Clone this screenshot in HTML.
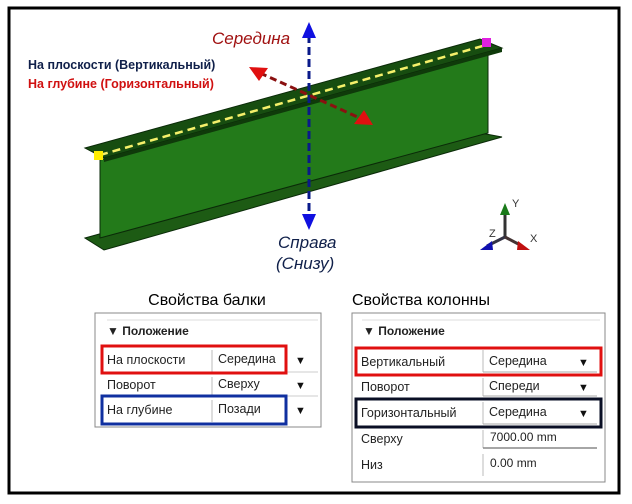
<!DOCTYPE html>
<html><head><meta charset="utf-8"><style>
html,body{margin:0;padding:0;background:#fff;}
body{width:632px;height:504px;overflow:hidden;position:relative;font-family:"Liberation Sans","DejaVu Sans",sans-serif;}
svg{position:absolute;left:0;top:0;}
</style></head><body>
<svg width="632" height="504" viewBox="0 0 632 504" xmlns="http://www.w3.org/2000/svg" font-family="Liberation Sans, DejaVu Sans, sans-serif">
<rect x="9" y="8" width="610" height="485" fill="none" stroke="#000" stroke-width="3"/>
<!-- beam -->
<polygon points="85,238 470,131 502,137 104,250" fill="#1d5b14" stroke="#0a2a08" stroke-width="1"/>
<polygon points="100,160 488,54 488,133 100,238" fill="#237a1a" stroke="#0a2a08" stroke-width="1"/>
<polygon points="85,148 480,39 502,48 104,158" fill="#174d10" stroke="#0a2a08" stroke-width="1"/>
<polygon points="104,158 502,48 502,52 104,162" fill="#0f3a0a"/>
<line x1="100" y1="155" x2="486" y2="45" stroke="#f5f06a" stroke-width="2.5" stroke-dasharray="8,5"/>
<rect x="94" y="151" width="9" height="9" fill="#ffee00"/>
<rect x="482" y="38" width="9" height="9" fill="#e020e0"/>
<!-- blue arrow -->
<line x1="309" y1="35" x2="309" y2="218" stroke="#0a1a8a" stroke-width="3" stroke-dasharray="8,4"/>
<polygon points="309,22 302,38 316,38" fill="#1010e0"/>
<polygon points="309,230 302,214 316,214" fill="#1010e0"/>
<!-- red arrow -->
<line x1="260" y1="73" x2="362" y2="119" stroke="#8a1010" stroke-width="3" stroke-dasharray="7,4"/>
<polygon points="249,67 268,68 259,81" fill="#e01010"/>
<polygon points="373,125 354,124 364,110" fill="#e01010"/>
<!-- labels -->
<text x="212" y="44" font-size="17" font-style="italic" fill="#a01010">Середина</text>
<text x="28" y="69" font-size="12.5" font-weight="bold" fill="#10204a">На плоскости (Вертикальный)</text>
<text x="28" y="88" font-size="12.5" font-weight="bold" fill="#d01010">На глубине (Горизонтальный)</text>
<text x="278" y="248" font-size="17" font-style="italic" fill="#10204a">Справа</text>
<text x="276" y="269" font-size="17" font-style="italic" fill="#10204a">(Снизу)</text>
<!-- triad -->
<line x1="505" y1="237" x2="505" y2="212" stroke="#333" stroke-width="3"/>
<polygon points="505,203 500,215 510,215" fill="#1a7a1a"/>
<line x1="505" y1="237" x2="487" y2="246" stroke="#334" stroke-width="3"/>
<polygon points="480,250 492,241 493,250" fill="#1010b0"/>
<line x1="505" y1="237" x2="522" y2="246" stroke="#433" stroke-width="3"/>
<polygon points="530,250 518,241 517,250" fill="#c01010"/>
<text x="512" y="207" font-size="11" fill="#333">Y</text>
<text x="489" y="237" font-size="11" fill="#333">Z</text>
<text x="530" y="242" font-size="11" fill="#333">X</text>
<!-- left panel -->
<text x="207" y="305" font-size="16" text-anchor="middle" fill="#000">Свойства балки</text>
<rect x="95" y="313" width="226" height="114" fill="#fff" stroke="#888" stroke-width="1"/>
<line x1="107" y1="320" x2="318" y2="320" stroke="#ddd"/>
<text x="107" y="335" font-size="12" font-weight="bold" fill="#222">▼ Положение</text>
<line x1="212" y1="350" x2="212" y2="372" stroke="#bbb"/><line x1="212" y1="372" x2="318" y2="372" stroke="#ccc"/>
<line x1="212" y1="377" x2="212" y2="396" stroke="#bbb"/><line x1="212" y1="396" x2="318" y2="396" stroke="#ccc"/>
<line x1="212" y1="400" x2="212" y2="422" stroke="#bbb"/>
<rect x="102" y="346" width="184" height="27" fill="none" stroke="#e01010" stroke-width="3"/>
<rect x="102" y="396" width="184" height="28" fill="none" stroke="#1030a0" stroke-width="3"/>
<text x="107" y="364" font-size="12.5" fill="#222">На плоскости</text>
<text x="218" y="363" font-size="12.5" fill="#222">Середина</text>
<text x="295" y="364" font-size="11" fill="#111">▼</text>
<text x="107" y="389" font-size="12.5" fill="#222">Поворот</text>
<text x="218" y="388" font-size="12.5" fill="#222">Сверху</text>
<text x="295" y="389" font-size="11" fill="#111">▼</text>
<text x="107" y="414" font-size="12.5" fill="#222">На глубине</text>
<text x="218" y="413" font-size="12.5" fill="#222">Позади</text>
<text x="295" y="414" font-size="11" fill="#111">▼</text>
<!-- right panel -->
<text x="352" y="305" font-size="16" fill="#000">Свойства колонны</text>
<rect x="352" y="313" width="253" height="169" fill="#fff" stroke="#888" stroke-width="1"/>
<line x1="362" y1="320" x2="600" y2="320" stroke="#ddd"/>
<text x="363" y="335" font-size="12" font-weight="bold" fill="#222">▼ Положение</text>
<line x1="483" y1="350" x2="483" y2="372" stroke="#bbb"/><line x1="483" y1="372" x2="597" y2="372" stroke="#aaa"/>
<line x1="483" y1="378" x2="483" y2="396" stroke="#bbb"/><line x1="483" y1="396" x2="597" y2="396" stroke="#aaa"/>
<line x1="483" y1="402" x2="483" y2="424" stroke="#bbb"/><line x1="483" y1="424" x2="597" y2="424" stroke="#aaa"/>
<line x1="483" y1="430" x2="483" y2="448" stroke="#bbb"/><line x1="483" y1="448" x2="597" y2="448" stroke="#888" stroke-width="1.5"/>
<line x1="483" y1="454" x2="483" y2="476" stroke="#bbb"/>
<rect x="356" y="348" width="245" height="27" fill="none" stroke="#e01010" stroke-width="3"/>
<rect x="356" y="399" width="245" height="28" fill="none" stroke="#0a0f25" stroke-width="3"/>
<text x="361" y="366" font-size="12.5" fill="#222">Вертикальный</text>
<text x="489" y="365" font-size="12.5" fill="#222">Середина</text>
<text x="578" y="366" font-size="11" fill="#111">▼</text>
<text x="361" y="391" font-size="12.5" fill="#222">Поворот</text>
<text x="489" y="390" font-size="12.5" fill="#222">Спереди</text>
<text x="578" y="391" font-size="11" fill="#111">▼</text>
<text x="361" y="417" font-size="12.5" fill="#222">Горизонтальный</text>
<text x="489" y="416" font-size="12.5" fill="#222">Середина</text>
<text x="578" y="417" font-size="11" fill="#111">▼</text>
<text x="361" y="443" font-size="12.5" fill="#222">Сверху</text>
<text x="490" y="441" font-size="12" fill="#222">7000.00 mm</text>
<text x="361" y="469" font-size="12.5" fill="#222">Низ</text>
<text x="490" y="467" font-size="12" fill="#222">0.00 mm</text>
</svg>
</body></html>
